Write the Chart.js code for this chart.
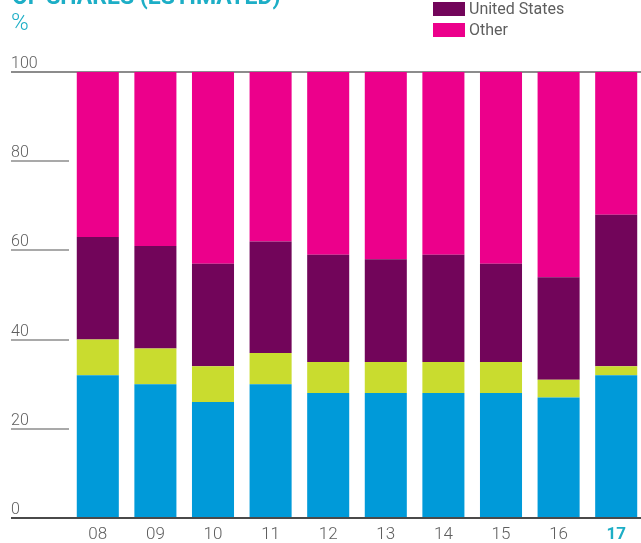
<!DOCTYPE html>
<html>
<head>
<meta charset="utf-8">
<script src="https://cdn.jsdelivr.net/npm/chart.js@4/dist/chart.umd.min.js"></script>
<style>
  html, body { margin: 0; padding: 0; background: #fff; overflow: hidden; }
  #wrap { width: 646px; height: 543px; }
</style>
</head>
<body>
<div id="wrap"><canvas id="chart"></canvas></div>
<script>
'use strict';

const years = ['08', '09', '10', '11', '12', '13', '14', '15', '16', '17'];
const yTicks = [0, 20, 40, 60, 80, 100];
// series values, % (bottom to top)
const europe = [32, 30, 26, 30, 28, 28, 28, 28, 27, 32];
const asia = [8, 8, 8, 7, 7, 7, 7, 7, 4, 2];
const unitedStates = [23, 23, 23, 25, 24, 23, 24, 22, 23, 34];
const other = [37, 39, 43, 38, 41, 42, 41, 43, 46, 32];

const TEAL = '#1daec6';
const GREY = '#5e5e5e';
const FONT = 'Roboto, "Liberation Sans", sans-serif';

// title, unit and legend drawn on top of the canvas
const extras = {
  id: 'extras',
  afterDraw(chart) {
    const ctx = chart.ctx;
    ctx.save();
    ctx.fillStyle = TEAL;
    ctx.textAlign = 'left';
    ctx.textBaseline = 'alphabetic';
    ctx.font = 'bold 23px ' + FONT;
    ctx.fillText('OF SHARES (ESTIMATED)', 12, 4);
    ctx.font = '300 24px ' + FONT;
    ctx.fillText('%', 11, 30);

    // legend rows stack upward, the first ones fall off the canvas
    const sets = chart.data.datasets;
    ctx.font = '16px ' + FONT;
    ctx.textBaseline = 'middle';
    sets.forEach((ds, i) => {
      const row = 30 - (sets.length - 1 - i) * 21;
      ctx.fillStyle = ds.backgroundColor;
      ctx.fillRect(433, row - 7, 32, 14);
      ctx.fillStyle = GREY;
      ctx.fillText(ds.label, 469, row + 1);
    });
    ctx.restore();
  },
};

new Chart(document.getElementById('chart'), {
  type: 'bar',
  data: {
    labels: years,
    datasets: [
      { label: 'Europe', data: europe, backgroundColor: '#009ad9' },
      { label: 'Asia', data: asia, backgroundColor: '#c9dc2f' },
      { label: 'United States', data: unitedStates, backgroundColor: '#72055a' },
      { label: 'Other', data: other, backgroundColor: '#ec008b' },
    ],
  },
  options: {
    responsive: true,
    maintainAspectRatio: false,
    animation: false,
    layout: { padding: { top: 72, left: 11, right: 1, bottom: 0 } },
    datasets: { bar: { categoryPercentage: 1, barPercentage: 0.73 } },
    plugins: { legend: { display: false }, tooltip: { enabled: false } },
    scales: {
      x: {
        stacked: true,
        border: { display: false },
        grid: { display: false, drawTicks: false },
        afterFit: axis => { axis.height = 25; },
        ticks: {
          padding: 7,
          font: ctx => ({ family: FONT, size: 17, weight: ctx.index === years.length - 1 ? 'bold' : '300' }),
          color: ctx => (ctx.index === years.length - 1 ? TEAL : GREY),
        },
      },
      y: {
        stacked: true,
        min: 0,
        max: 100,
        afterBuildTicks: axis => { axis.ticks = yTicks.map(v => ({ value: v })); },
        afterFit: axis => { axis.width = 58; },
        border: { display: false },
        grid: {
          lineWidth: 2,
          tickLength: 58,
          color: ctx => (ctx.tick.value === 0 ? '#4a4a4a' : ctx.tick.value === 100 ? '#8c8c8c' : 'rgba(0,0,0,0)'),
          tickColor: ctx => (ctx.tick.value === 0 ? '#4a4a4a' : '#8c8c8c'),
          tickWidth: ctx => (ctx.tick.value === 0 || ctx.tick.value === 100 ? 2 : 1.5),
        },
        ticks: {
          crossAlign: 'far',
          labelOffset: -8,
          font: { family: FONT, size: 16, weight: '300' },
          color: GREY,
        },
      },
    },
  },
  plugins: [extras],
});
</script>
</body>
</html>
